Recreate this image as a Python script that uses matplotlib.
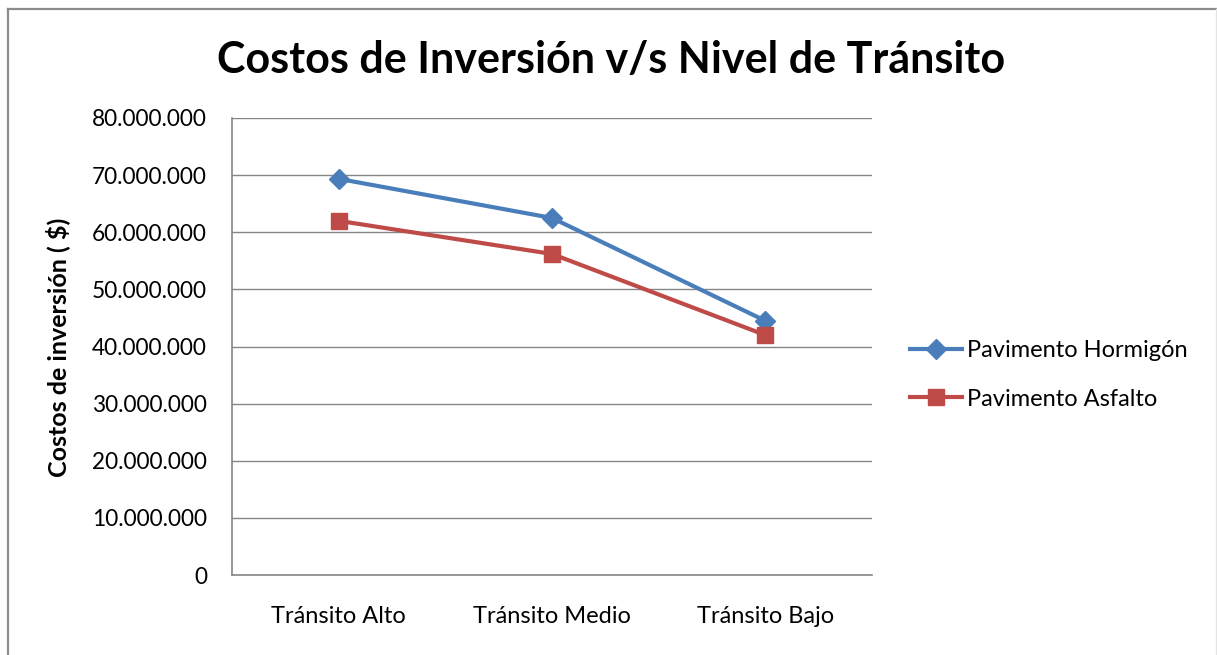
import matplotlib
matplotlib.use("Agg")
import matplotlib.pyplot as plt
from matplotlib.ticker import FuncFormatter, MultipleLocator
from matplotlib.lines import Line2D

categories = ["Tránsito Alto", "Tránsito Medio", "Tránsito Bajo"]
hormigon = [69350000, 62500000, 44500000]
asfalto = [62000000, 56200000, 42000000]
series_names = ["Pavimento Hormigón", "Pavimento Asfalto"]

FONT = ["Lato", "DejaVu Sans"]
plt.rcParams['font.family'] = FONT

W, H = 1217, 655
fig = plt.figure(figsize=(W / 100, H / 100), dpi=100)
# outer chart border
fig.lines.append(Line2D([7.5 / W, 7.5 / W], [0, 1 - 9 / H], transform=fig.transFigure,
                        color="#8c8c8c", linewidth=1.6))
fig.lines.append(Line2D([7.5 / W, 1], [1 - 9 / H, 1 - 9 / H], transform=fig.transFigure,
                        color="#8c8c8c", linewidth=1.6))
fig.lines.append(Line2D([1215.5 / W, 1215.5 / W], [0, 1 - 9 / H], transform=fig.transFigure,
                        color="#e4e4e4", linewidth=1.0))

ax = fig.add_axes([232 / W, 1 - 575 / H, 640 / W, 457 / H])
x = list(range(len(categories)))
blue = "#4A7EBB"
red = "#BE4B48"
ax.plot(x, hormigon, color=blue, linewidth=3.0, marker="D", markersize=10,
        markeredgecolor=blue, label=series_names[0], zorder=3)
ax.plot(x, asfalto, color=red, linewidth=3.0, marker="s", markersize=11,
        markeredgecolor=red, label=series_names[1], zorder=3)

ax.set_xlim(-0.5, 2.5)
ax.set_ylim(0, 80000000)
ax.yaxis.set_major_locator(MultipleLocator(10000000))
ax.yaxis.set_major_formatter(FuncFormatter(lambda v, p: f"{int(v):,}".replace(",", ".")))
ax.grid(axis="y", color="#868686", linewidth=1)
ax.set_axisbelow(True)
for s in ["top", "right"]:
    ax.spines[s].set_visible(False)
for s in ["left", "bottom"]:
    ax.spines[s].set_color("#868686")
    ax.spines[s].set_linewidth(1.2)
ax.set_xticks(x)
ax.set_xticklabels(categories)
ax.tick_params(axis="x", length=0, pad=22, labelsize=17)
ax.tick_params(axis="y", length=0, pad=18, labelsize=16.3)

ax.set_ylabel("Costos de inversión ( $)", fontsize=18, fontweight="bold")
ax.yaxis.set_label_coords(58 / W, 1 - 347 / H, transform=fig.transFigure)
ax.yaxis.label.set_va("center")

fig.text(611 / W, 1 - 60 / H, "Costos de Inversión v/s Nivel de Tránsito",
         ha="center", va="center", fontsize=31, fontweight="bold")

fig.legend(loc="center left", bbox_to_anchor=(910 / W, 1 - 375 / H), frameon=False,
           fontsize=17, handlelength=2.2, handletextpad=0.2, labelspacing=1.15,
           borderaxespad=0, borderpad=0)

fig.savefig("out.png", dpi=100)
